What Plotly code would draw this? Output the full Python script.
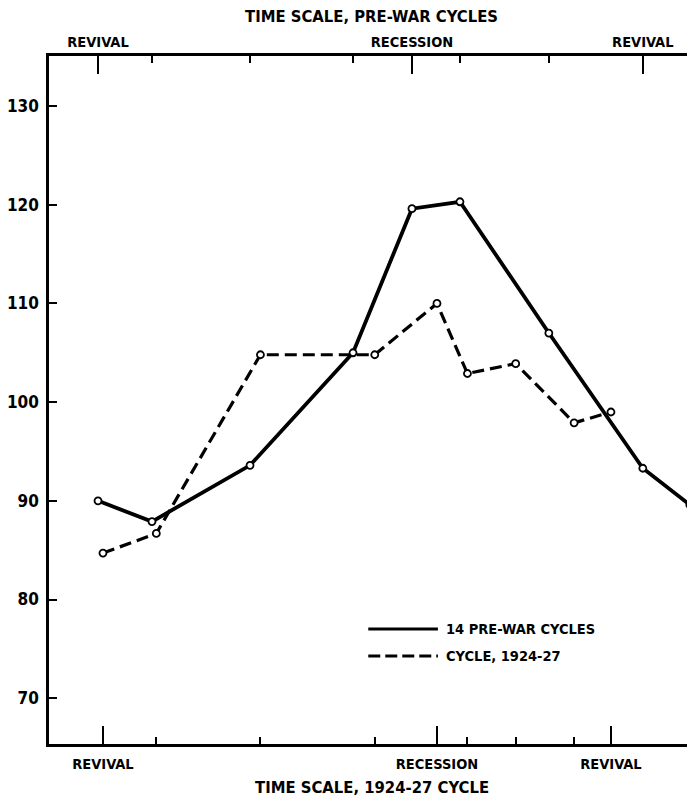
import plotly.graph_objects as go

# ---------------- data ----------------
# time positions in months from the initial trough of each scale
prewar_stage_months = [0, 4.25, 11.97, 20.08, 24.72, 28.5, 35.5, 42.9, 46.6]
prewar_index = [90.0, 87.9, 93.6, 105.0, 119.6, 120.3, 107.0, 93.3, 89.6]

cycle_stage_months = [0, 4.2, 12.4, 21.4, 26.3, 28.7, 32.5, 37.1, 40.0]
cycle_index = [84.7, 86.7, 104.8, 104.8, 110.0, 102.9, 103.9, 97.9, 99.0]

y_ticks = [70, 80, 90, 100, 110, 120, 130]

prewar_phase_idx = [0, 4, 7]
prewar_phase_labels = ["REVIVAL", "RECESSION", "REVIVAL"]
cycle_phase_idx = [0, 4, 8]
cycle_phase_labels = ["REVIVAL", "RECESSION", "REVIVAL"]

series_names = ["14 PRE-WAR CYCLES", "CYCLE, 1924-27"]
top_title = "TIME SCALE, PRE-WAR CYCLES"
bottom_title = "TIME SCALE, 1924-27 CYCLE"

FONT = "DejaVu Sans Condensed, DejaVu Sans, sans-serif"


def bold(size):
    return dict(family=FONT, size=size, color="black", weight="bold")


fig = go.Figure()

fig.add_trace(go.Scatter(
    x=prewar_stage_months, y=prewar_index, xaxis="x2", yaxis="y",
    mode="lines+markers", name=series_names[0], showlegend=False,
    line=dict(color="black", width=3.8),
    marker=dict(symbol="circle", size=7, color="white",
                line=dict(color="black", width=1.8)),
))
fig.add_trace(go.Scatter(
    x=cycle_stage_months, y=cycle_index, xaxis="x", yaxis="y",
    mode="lines+markers", name=series_names[1], showlegend=False,
    line=dict(color="black", width=3.2, dash="12px,6px"),
    marker=dict(symbol="circle", size=7, color="white",
                line=dict(color="black", width=1.8)),
))

cyc_major = [cycle_stage_months[i] for i in cycle_phase_idx]
cyc_minor = [m for i, m in enumerate(cycle_stage_months) if i not in cycle_phase_idx]
pw_major = [prewar_stage_months[i] for i in prewar_phase_idx]
pw_minor = [m for i, m in enumerate(prewar_stage_months) if i not in prewar_phase_idx]

# the page body adds an 8px margin, so the figure is sized to fit the window
fig.update_layout(
    width=687, height=794,
    margin=dict(l=41, r=1, t=48, b=58, autoexpand=False),
    paper_bgcolor="white", plot_bgcolor="white",
    xaxis=dict(
        range=[-4.25, 46.54], showgrid=False, zeroline=False, automargin=False,
        showline=True, linecolor="black", linewidth=2.5,
        ticks="inside", ticklen=18, tickwidth=2, tickcolor="black",
        tickmode="array", tickvals=cyc_major, ticktext=cycle_phase_labels,
        tickfont=bold(14.5), ticklabelstandoff=5,
        minor=dict(tickmode="array", tickvals=cyc_minor, ticks="inside",
                   ticklen=7, tickwidth=2, tickcolor="black"),
    ),
    xaxis2=dict(
        range=[-3.86, 46.93], overlaying="x", side="top", anchor="y",
        showgrid=False, zeroline=False, automargin=False,
        showline=True, linecolor="black", linewidth=2.5,
        ticks="inside", ticklen=18, tickwidth=2, tickcolor="black",
        tickmode="array", tickvals=pw_major, ticktext=prewar_phase_labels,
        tickfont=bold(14.5), ticklabelstandoff=0,
        minor=dict(tickmode="array", tickvals=pw_minor, ticks="inside",
                   ticklen=7, tickwidth=2, tickcolor="black"),
    ),
    yaxis=dict(
        range=[65.36, 135.07], showgrid=False, zeroline=False, automargin=False,
        showline=True, linecolor="black", linewidth=2.5,
        ticks="inside", ticklen=8, tickwidth=2, tickcolor="black",
        tickmode="array", tickvals=y_ticks, tickfont=bold(17),
        ticklabelstandoff=4,
    ),
    showlegend=False,
)

# axis titles
fig.add_annotation(text=top_title, xref="paper", yref="paper", x=0.5, y=1,
                   yanchor="middle", yshift=40, showarrow=False, font=bold(16.5))
fig.add_annotation(text=bottom_title, xref="paper", yref="paper", x=0.5, y=0,
                   yanchor="middle", yshift=-43, showarrow=False, font=bold(16.5))

# faint right border
fig.add_shape(type="line", xref="paper", yref="paper", x0=1, x1=1, y0=0, y1=1,
              line=dict(color="#999", width=1, dash="dot"))

# legend drawn by hand
leg_x0, leg_x1, leg_text_x = 0.495, 0.603, 0.612
leg_y = [0.167, 0.128]
leg_dash = ["solid", "12px,5px"]
for name, yy, dash in zip(series_names, leg_y, leg_dash):
    fig.add_shape(type="line", xref="paper", yref="paper",
                  x0=leg_x0, x1=leg_x1, y0=yy, y1=yy,
                  line=dict(color="black", width=3, dash=dash))
    fig.add_annotation(text=name, xref="paper", yref="paper", x=leg_text_x, y=yy,
                       xanchor="left", yanchor="middle", showarrow=False,
                       font=bold(14.5))

fig.write_html("out.html")
